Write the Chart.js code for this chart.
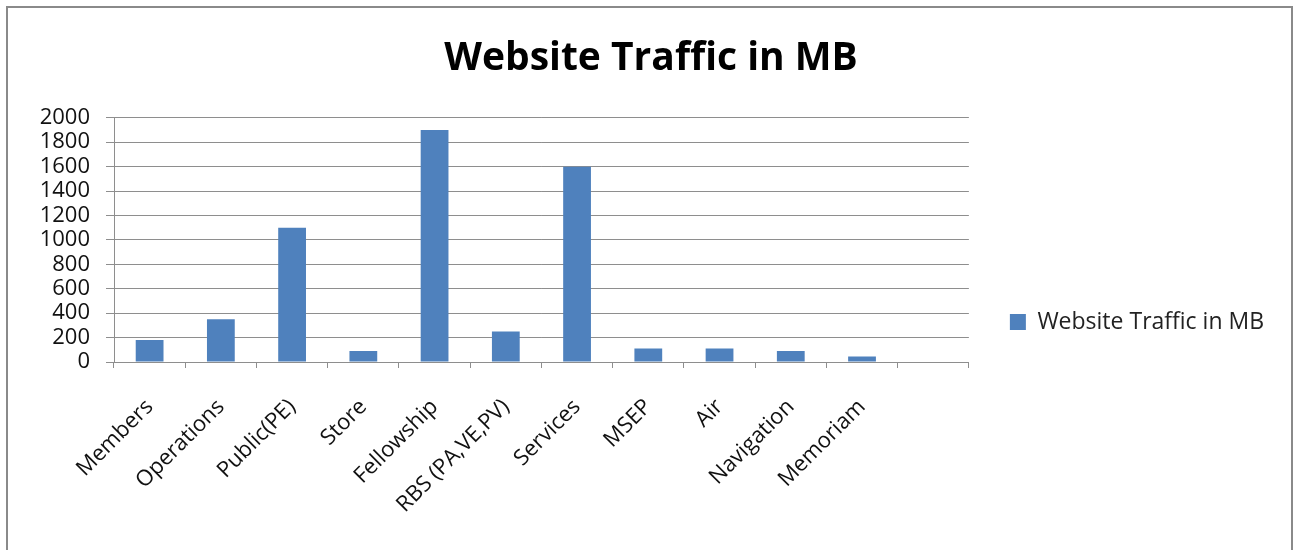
<!DOCTYPE html>
<html>
<head>
<meta charset="utf-8">
<title>Website Traffic in MB</title>
<script src="https://cdn.jsdelivr.net/npm/chart.js@4"></script>
<style>
    html, body { margin: 0; padding: 0; background: #fff; }
    #wrap { position: relative; width: 1298px; height: 550px; overflow: hidden; }
    #frame {
        position: absolute; left: 6px; top: 6px; width: 1287px; height: 600px;
        border: 2px solid #8a8a8a; box-sizing: border-box;
    }
    #chart { position: absolute; left: 0; top: 0; }
</style>
</head>
<body>
<div id="wrap">
    <div id="frame"></div>
    <canvas id="chart" width="1298" height="550"></canvas>
</div>
<script>
// --- data ---
const categories = ["Members", "Operations", "Public(PE)", "Store", "Fellowship", "RBS (PA,VE,PV)",
    "Services", "MSEP", "Air", "Navigation", "Memoriam", ""];
const trafficMB = [180, 350, 1100, 90, 1900, 250, 1600, 110, 110, 90, 45, null];
const yMin = 0;
const yMax = 2000;
const yStep = 200;

const FONT = "'Open Sans', 'Liberation Sans', sans-serif";
const barBlue = '#4f81bd';
const gridGray = '#8e8e8e';

const ctx = document.getElementById('chart').getContext('2d');
new Chart(ctx, {
    type: 'bar',
    data: {
        labels: categories,
        datasets: [{
            label: 'Website Traffic in MB',
            data: trafficMB,
            backgroundColor: barBlue,
            borderWidth: 0,
            barPercentage: 0.39,
            categoryPercentage: 1.0
        }]
    },
    options: {
        responsive: false,
        animation: false,
        layout: { padding: { left: 28, right: 24, top: 0, bottom: 0 } },
        plugins: {
            title: {
                display: true,
                text: 'Website Traffic in MB',
                color: '#000',
                font: { family: FONT, size: 39, weight: 'bold' },
                padding: { top: 35, bottom: 36 }
            },
            legend: {
                position: 'right',
                align: 'center',
                // empty title only pushes the legend entry down to where Excel put it
                title: { display: true, text: '', font: { size: 10 }, padding: { top: 82, bottom: 0 } },
                labels: {
                    color: '#222',
                    font: { family: FONT, size: 23 },
                    boxWidth: 16,
                    boxHeight: 16,
                    padding: 41
                }
            },
            tooltip: { enabled: false }
        },
        scales: {
            x: {
                offset: true,
                grid: {
                    offset: true,
                    drawOnChartArea: false,
                    drawTicks: true,
                    tickLength: 6,
                    color: gridGray
                },
                border: { display: true, color: gridGray, width: 1 },
                ticks: {
                    color: '#111',
                    font: { family: FONT, size: 22 },
                    minRotation: 45,
                    maxRotation: 45,
                    autoSkip: false,
                    padding: 26
                },
                afterFit: (scale) => { scale.height = 188; }
            },
            y: {
                min: yMin,
                max: yMax,
                grid: {
                    color: gridGray,
                    lineWidth: 1,
                    drawTicks: true,
                    tickLength: 8
                },
                border: { display: true, color: gridGray, width: 1 },
                ticks: {
                    stepSize: yStep,
                    autoSkip: false,
                    color: '#111',
                    font: { family: FONT, size: 22 },
                    padding: 16,
                    callback: (v) => String(v)
                },
                afterFit: (scale) => { scale.width = 86; }
            }
        }
    }
});
</script>
</body>
</html>
